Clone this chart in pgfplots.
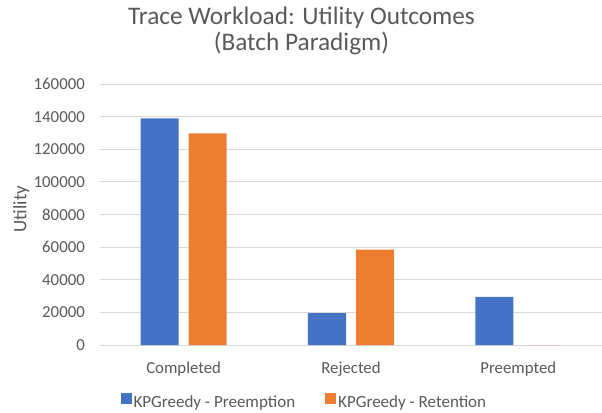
\documentclass[border=0pt]{standalone}
\usepackage{pgfplots}
\pgfplotsset{compat=1.18}
\usepackage{fontspec}
\setmainfont{Carlito}
\definecolor{cblue}{HTML}{4472C4}
\definecolor{corange}{HTML}{ED7D31}
\definecolor{ctext}{HTML}{595959}
\definecolor{cgrid}{HTML}{D9D9D9}
\begin{document}
\begin{tikzpicture}
\path[use as bounding box] (-100bp,-68bp) rectangle (502bp,345bp);
\begin{axis}[
  scale only axis,
  width=502bp, height=261bp,
  ybar=10bp, bar width=38bp,
  xmin=-0.5, xmax=2.5,
  ymin=0, ymax=160000,
  xtick={0,1,2},
  xticklabels={Completed,Rejected,Preempted},
  ytick={0,20000,40000,60000,80000,100000,120000,140000,160000},
  yticklabels={0,20000,40000,60000,80000,100000,120000,140000,160000},
  scaled y ticks=false,
  major tick length=0pt,
  axis line style={draw=none},
  ymajorgrids,
  grid style={cgrid, line width=0.9bp},
  tick label style={font=\fontsize{16.8bp}{20bp}\selectfont, text=ctext},
  xticklabel style={anchor=base, yshift=-28bp, inner sep=0pt},
  yticklabel style={anchor=east, xshift=-15bp, inner sep=0pt},
  ylabel={Utility},
  ylabel style={at={(axis description cs:-0.157,0.521)}, anchor=center, font=\fontsize{19bp}{22bp}\selectfont, text=ctext},
  legend columns=2,
  legend style={at={(axis description cs:0.407,-0.218)}, anchor=center, draw=none, fill=none,
    font=\fontsize{17bp}{20bp}\selectfont, text=ctext,
    /tikz/every even column/.append style={column sep=28bp},
    inner sep=0pt},
  legend image code/.code={\fill[#1,draw=none] (0bp,-2bp) rectangle (11bp,9bp);},
  legend cell align=left,
]
\addplot[fill=cblue, draw=none] coordinates {(0,139000) (1,19600) (2,29500)};
\addplot[fill=corange, draw=none] coordinates {(0,129800) (1,58400) (2,0)};
\legend{KPGreedy - Preemption, KPGreedy - Retention}
\end{axis}
\node[anchor=base, text=ctext, font=\fontsize{25.3bp}{30bp}\selectfont] at (201.5bp,320bp) {Trace Workload: Utility Outcomes};
\node[anchor=base, text=ctext, font=\fontsize{25.3bp}{30bp}\selectfont] at (201.5bp,294bp) {(Batch Paradigm)};
\end{tikzpicture}
\end{document}
